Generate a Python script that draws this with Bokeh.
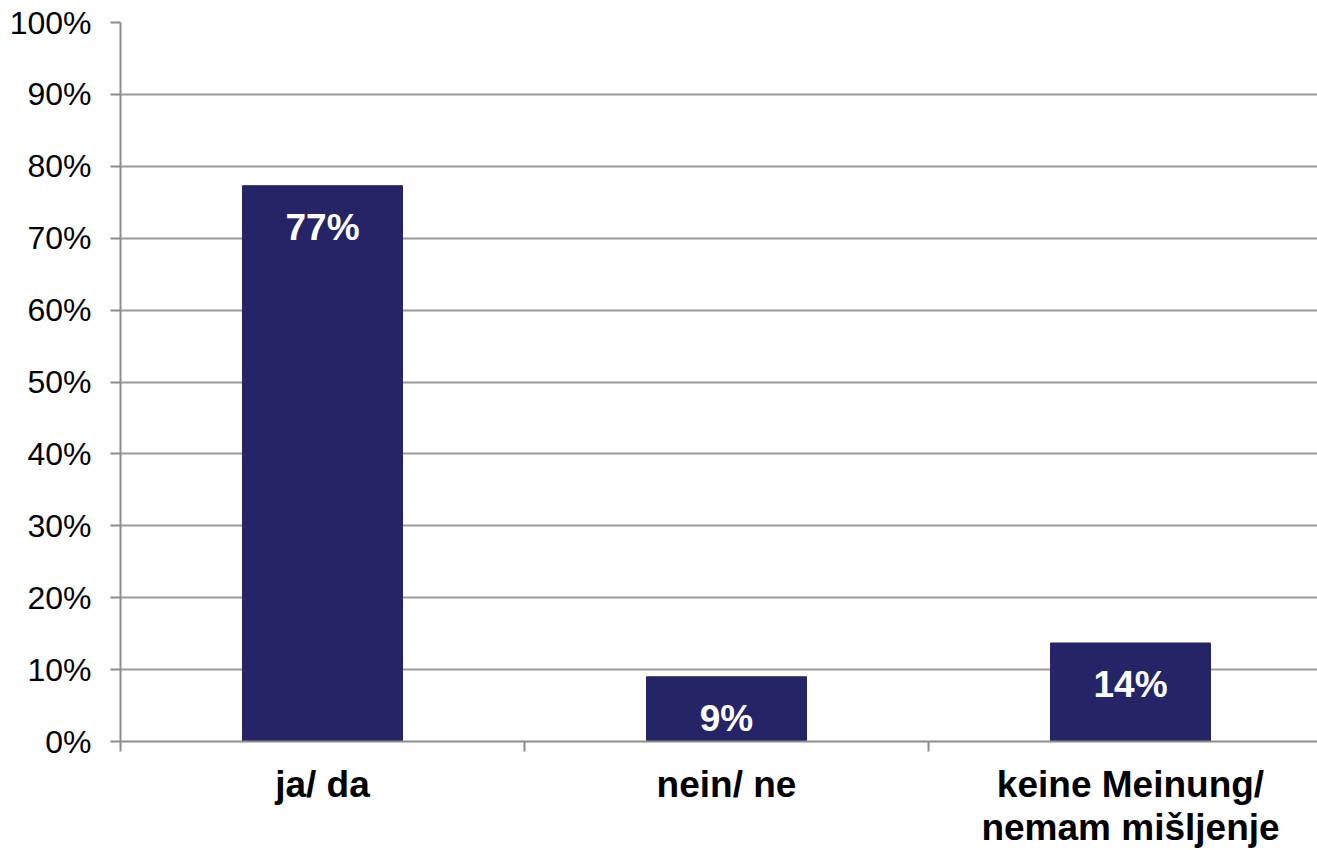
from bokeh.plotting import figure
from bokeh.models import FixedTicker, Range1d, ColumnDataSource
from bokeh.core.properties import value
from bokeh.embed import file_html
from bokeh.resources import INLINE

categories = ["ja/ da", "nein/ ne", "keine Meinung/\nnemam mišljenje"]
values = [77.3, 9.0, 13.7]
bar_labels = ["77%", "9%", "14%"]
y_ticks = [0, 10, 20, 30, 40, 50, 60, 70, 80, 90, 100]
y_tick_labels = ["0%", "10%", "20%", "30%", "40%", "50%", "60%", "70%", "80%", "90%", "100%"]

BAR = "#242466"
FONT = "Liberation Sans"

centers = [i + 0.5 for i in range(len(categories))]
bounds = [i for i in range(len(categories))]

src = ColumnDataSource(dict(x=centers, top=values, lab=bar_labels))

p = figure(width=1317, height=850, output_backend="svg", toolbar_location=None,
           x_range=Range1d(0, 1197 / 404), y_range=Range1d(0, 100),
           min_border_left=120, min_border_right=0, min_border_top=22, min_border_bottom=107)
p.outline_line_color = None
p.background_fill_color = "white"
p.border_fill_color = "white"

p.vbar(x="x", top="top", width=0.396, bottom=0, source=src, fill_color=BAR, line_color=BAR)
p.text(x="x", y="top", text="lab", source=src, text_color="white",
       text_font=value(FONT), text_font_style="bold", text_font_size="37px",
       text_align="center", text_baseline="top", y_offset=21)

# y axis
p.yaxis.ticker = FixedTicker(ticks=y_ticks)
p.yaxis.major_label_overrides = {t: l for t, l in zip(y_ticks, y_tick_labels)}
p.yaxis.major_label_text_font = FONT
p.yaxis.major_label_text_font_size = "32px"
p.yaxis.major_label_text_color = "black"
p.yaxis.major_tick_out = 10
p.yaxis.major_tick_in = 0
p.yaxis.minor_tick_line_color = None
p.yaxis.major_label_standoff = 19
p.yaxis.axis_line_color = "#8c8c8c"
p.yaxis.axis_line_width = 2
p.yaxis.major_tick_line_color = "#8c8c8c"
p.yaxis.major_tick_line_width = 2

# x axis
p.xaxis.ticker = FixedTicker(ticks=centers, minor_ticks=bounds)
p.xaxis.major_label_overrides = {c: l for c, l in zip(centers, categories)}
p.xaxis.major_label_text_font = FONT
p.xaxis.major_label_text_font_style = "bold"
p.xaxis.major_label_text_font_size = "37px"
p.xaxis.major_label_text_line_height = 1.05
p.xaxis.major_label_text_color = "black"
p.xaxis.major_tick_out = 0
p.xaxis.major_tick_in = 0
p.xaxis.major_tick_line_color = None
p.xaxis.minor_tick_out = 10
p.xaxis.minor_tick_in = 0
p.xaxis.minor_tick_line_color = "#8c8c8c"
p.xaxis.minor_tick_line_width = 2
p.xaxis.major_label_standoff = 12
p.xaxis.axis_line_color = "#8c8c8c"
p.xaxis.axis_line_width = 2

p.xgrid.grid_line_color = None
p.ygrid.ticker = FixedTicker(ticks=y_ticks)
p.ygrid.grid_line_color = "#9a9a9a"
p.ygrid.grid_line_width = 2

open("out.html", "w").write(file_html(p, INLINE))
